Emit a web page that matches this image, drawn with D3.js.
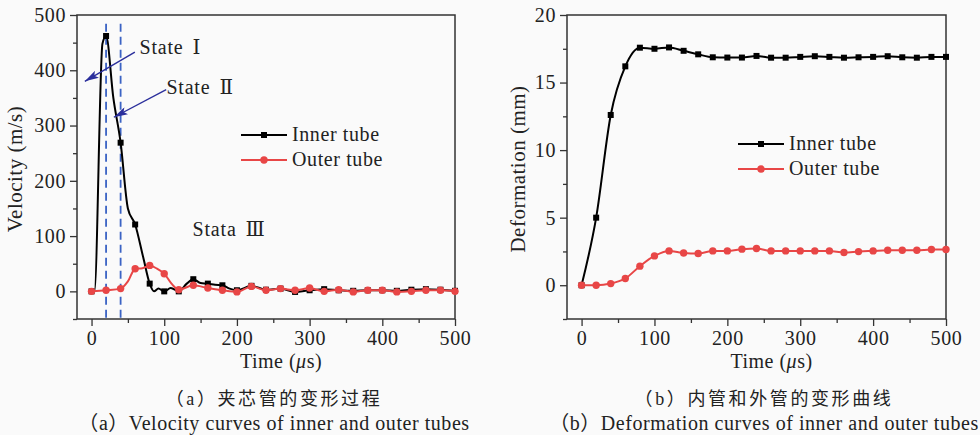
<!DOCTYPE html>
<html>
<head>
<meta charset="utf-8">
<script src="https://cdn.jsdelivr.net/npm/d3@7"></script>
<style>
body { margin: 0; background: #fafafa; }
svg { display: block; font-family: "Liberation Serif", "DejaVu Serif", serif; }
</style>
</head>
<body>
<svg></svg>
<script>
const size = {w: 980, h: 435};
const svg = d3.select('svg').attr('width', size.w).attr('height', size.h);
const red = '#e84646';
const axisColor = '#333';
const navy = '#2b2f9c';
const serif = '"Liberation Serif", "DejaVu Serif", serif';

// ---- (a) velocity data ----
const velInnerT = [0, 4, 15, 20, 30, 40, 50, 60, 71, 80, 86, 92, 100, 109, 120, 131, 140, 150, 160, 170, 180, 190, 200, 220, 240, 260, 280, 300, 320, 340, 360, 380, 400, 420, 440, 460, 480, 500];
const velInnerV = [0, 0, 448, 462, 350, 269, 150, 121, 62, 14, 0, 5, 0, 6, 0, 14, 22, 15, 14, 12, 11, 5, 2, 10, 3, 5, -1, 2, 4, 2, 1, 2, 2, 1, 3, 4, 3, 1];
const velOuterT = [0, 20, 40, 50, 60, 70, 80, 90, 100, 110, 120, 140, 160, 180, 200, 220, 240, 260, 280, 300, 320, 340, 360, 380, 400, 420, 440, 460, 480, 500];
const velOuterV = [0, 2, 5, 18, 41, 42, 47, 41, 32, 14, 3, 11, 6, 2, -1, 9, 2, 5, 2, 6, 0, 3, -1, 2, 2, -1, 0, 2, 2, 0];

// ---- (b) deformation data ----
const defT = d3.range(0, 501, 20);
const defInner = [0, 5.0, 12.6, 16.2, 17.58, 17.5, 17.6, 17.35, 17.09, 16.87, 16.85, 16.85, 16.97, 16.84, 16.84, 16.9, 16.95, 16.9, 16.84, 16.87, 16.9, 16.95, 16.87, 16.84, 16.9, 16.9];
const defOuter = [0, 0, 0.12, 0.5, 1.41, 2.17, 2.54, 2.39, 2.35, 2.54, 2.54, 2.67, 2.72, 2.54, 2.54, 2.54, 2.54, 2.54, 2.42, 2.49, 2.54, 2.59, 2.59, 2.59, 2.64, 2.64];

const xTicks = [0, 100, 200, 300, 400, 500];
const xMinor = [50, 150, 250, 350, 450];
const velTicks = [0, 100, 200, 300, 400, 500];
const velMinor = [-50, 50, 150, 250, 350, 450];
const defTicks = [0, 5, 10, 15, 20];
const defMinor = [-2.5, 2.5, 7.5, 12.5, 17.5];
const stateLines = [20, 40];
const seriesNames = ['Inner tube', 'Outer tube'];

const zip = (t, v) => t.map((d, i) => ({t: d, v: v[i]}));

const panels = [
    {
        x0: 77, x1: 455, y0: 15, y1: 319, yDomain: [-50, 500],
        yTicks: velTicks, yMinor: velMinor, yTitle: 'Velocity (m/s)', titleX: 22,
        inner: zip(velInnerT, velInnerV), outer: zip(velOuterT, velOuterV),
        legend: {x: 241, y: 135},
        cn: '（a）夹芯管的变形过程', en: '（a）Velocity curves of inner and outer tubes', capX: 274
    },
    {
        x0: 567, x1: 946, y0: 15, y1: 319, yDomain: [-2.5, 20],
        yTicks: defTicks, yMinor: defMinor, yTitle: 'Deformation (mm)', titleX: 525,
        inner: zip(defT, defInner), outer: zip(defT, defOuter),
        legend: {x: 738, y: 144},
        cn: '（b）内管和外管的变形曲线', en: '（b）Deformation curves of inner and outer tubes', capX: 764
    }
];

panels.forEach((p, pi) => {
    const x = d3.scaleLinear().domain([-20, 500]).range([p.x0, p.x1]);
    const y = d3.scaleLinear().domain(p.yDomain).range([p.y1, p.y0]);
    const g = svg.append('g');

    // axes
    g.append('g').attr('transform', `translate(${p.x0},0)`)
        .call(d3.axisLeft(y).tickValues(p.yTicks).tickSize(7).tickPadding(4));
    g.append('g').attr('transform', `translate(${p.x0},0)`)
        .call(d3.axisLeft(y).tickValues(p.yMinor).tickSize(4).tickFormat(''));
    g.append('g').attr('transform', `translate(0,${p.y1})`)
        .call(d3.axisBottom(x).tickValues(xTicks).tickSize(7).tickPadding(5));
    g.append('g').attr('transform', `translate(0,${p.y1})`)
        .call(d3.axisBottom(x).tickValues(xMinor).tickSize(4).tickFormat(''));
    g.selectAll('.domain').remove();
    g.selectAll('g').attr('font-family', serif).attr('font-size', 20);
    g.selectAll('.tick line').attr('stroke', axisColor).attr('stroke-width', 1.3);
    g.selectAll('.tick text').attr('fill', '#222').attr('letter-spacing', 0.6);

    g.append('rect')
        .attr('x', p.x0).attr('y', p.y0)
        .attr('width', p.x1 - p.x0).attr('height', p.y1 - p.y0)
        .attr('fill', 'none').attr('stroke', axisColor).attr('stroke-width', 1.5);

    // titles
    g.append('text')
        .attr('transform', `translate(${p.titleX},${(p.y0 + p.y1) / 2 + 2}) rotate(-90)`)
        .attr('text-anchor', 'middle').attr('font-size', 21).attr('letter-spacing', 0.5)
        .attr('fill', '#222')
        .text(p.yTitle);
    const tt = g.append('text')
        .attr('x', (p.x0 + p.x1) / 2 + 15).attr('y', 368)
        .attr('text-anchor', 'middle').attr('font-size', 20).attr('letter-spacing', 0.5)
        .attr('fill', '#222');
    tt.append('tspan').text('Time (');
    tt.append('tspan').attr('font-style', 'italic').text('μ');
    tt.append('tspan').text('s)');

    // captions
    g.append('text')
        .attr('x', p.capX).attr('y', 405)
        .attr('text-anchor', 'middle').attr('font-size', 18).attr('fill', '#222')
        .attr('letter-spacing', 2.6)
        .style('font-family', '"Liberation Serif", "Noto Sans CJK SC", serif')
        .text(p.cn);
    g.append('text')
        .attr('x', p.capX).attr('y', 430)
        .attr('text-anchor', 'middle').attr('font-size', 20).attr('fill', '#222')
        .attr('letter-spacing', 0.55)
        .style('font-family', '"Liberation Serif", "Noto Sans CJK SC", serif')
        .text(p.en);

    const plot = g.append('g');

    if (pi === 0) {
        plot.selectAll('.state')
            .data(stateLines)
            .join('line')
            .attr('x1', d => x(d)).attr('x2', d => x(d))
            .attr('y1', y(484)).attr('y2', p.y1)
            .attr('stroke', '#3b63c4').attr('stroke-width', 1.8)
            .attr('stroke-dasharray', '8,5');
    }

    const line = d3.line().x(d => x(d.t)).y(d => y(d.v)).curve(d3.curveMonotoneX);

    plot.append('path').datum(p.inner)
        .attr('d', line).attr('fill', 'none').attr('stroke', '#000').attr('stroke-width', 2);
    plot.selectAll('.sq')
        .data(p.inner.filter(d => d.t % 20 === 0))
        .join('rect')
        .attr('x', d => x(d.t) - 3).attr('y', d => y(d.v) - 3)
        .attr('width', 6).attr('height', 6).attr('fill', '#000');

    plot.append('path').datum(p.outer)
        .attr('d', line).attr('fill', 'none').attr('stroke', red).attr('stroke-width', 2);
    plot.selectAll('.ci')
        .data(p.outer.filter(d => d.t % 20 === 0))
        .join('circle')
        .attr('cx', d => x(d.t)).attr('cy', d => y(d.v))
        .attr('r', 3.7).attr('fill', red);

    // legend
    const lg = g.append('g').attr('transform', `translate(${p.legend.x},${p.legend.y})`);
    seriesNames.forEach((name, i) => {
        const c = i === 0 ? '#000' : red;
        lg.append('line').attr('x1', 0).attr('x2', 46).attr('y1', i * 25).attr('y2', i * 25)
            .attr('stroke', c).attr('stroke-width', 2);
        if (i === 0) {
            lg.append('rect').attr('x', 20).attr('y', -3).attr('width', 6).attr('height', 6).attr('fill', c);
        } else {
            lg.append('circle').attr('cx', 23).attr('cy', 25).attr('r', 3.7).attr('fill', c);
        }
        lg.append('text').attr('x', 51).attr('y', i * 25 + 6)
            .attr('font-size', 20).attr('letter-spacing', 0.6).attr('fill', '#222').text(name);
    });

    // annotations on velocity plot
    if (pi === 0) {
        const defs = svg.append('defs');
        defs.append('marker').attr('id', 'arrow')
            .attr('viewBox', '0 0 14 8').attr('refX', 14).attr('refY', 4)
            .attr('markerWidth', 14).attr('markerHeight', 8)
            .attr('markerUnits', 'userSpaceOnUse').attr('orient', 'auto')
            .append('path').attr('d', 'M0,0 L14,4 L0,8 L3,4 Z').attr('fill', navy);

        const arrows = [
            {from: [59.6, 433], to: [-9.2, 380]},
            {from: [102.7, 365], to: [30.7, 315]}
        ];
        plot.selectAll('.arrow')
            .data(arrows)
            .join('line')
            .attr('x1', d => x(d.from[0])).attr('y1', d => y(d.from[1]))
            .attr('x2', d => x(d.to[0])).attr('y2', d => y(d.to[1]))
            .attr('stroke', navy).attr('stroke-width', 1.4)
            .attr('marker-end', 'url(#arrow)');

        const notes = [
            {t: 66, v: 429, word: 'State', num: 'Ⅰ'},
            {t: 103, v: 357, word: 'State', num: 'Ⅱ'},
            {t: 139, v: 101, word: 'Stata', num: 'Ⅲ'}
        ];
        const nt = plot.selectAll('.note')
            .data(notes)
            .join('text')
            .attr('x', d => x(d.t)).attr('y', d => y(d.v))
            .attr('font-size', 20).attr('letter-spacing', 0.8).attr('fill', '#222');
        nt.append('tspan').text(d => d.word);
        nt.append('tspan').attr('dx', 9).text(d => d.num);
    }
});
</script>
</body>
</html>
